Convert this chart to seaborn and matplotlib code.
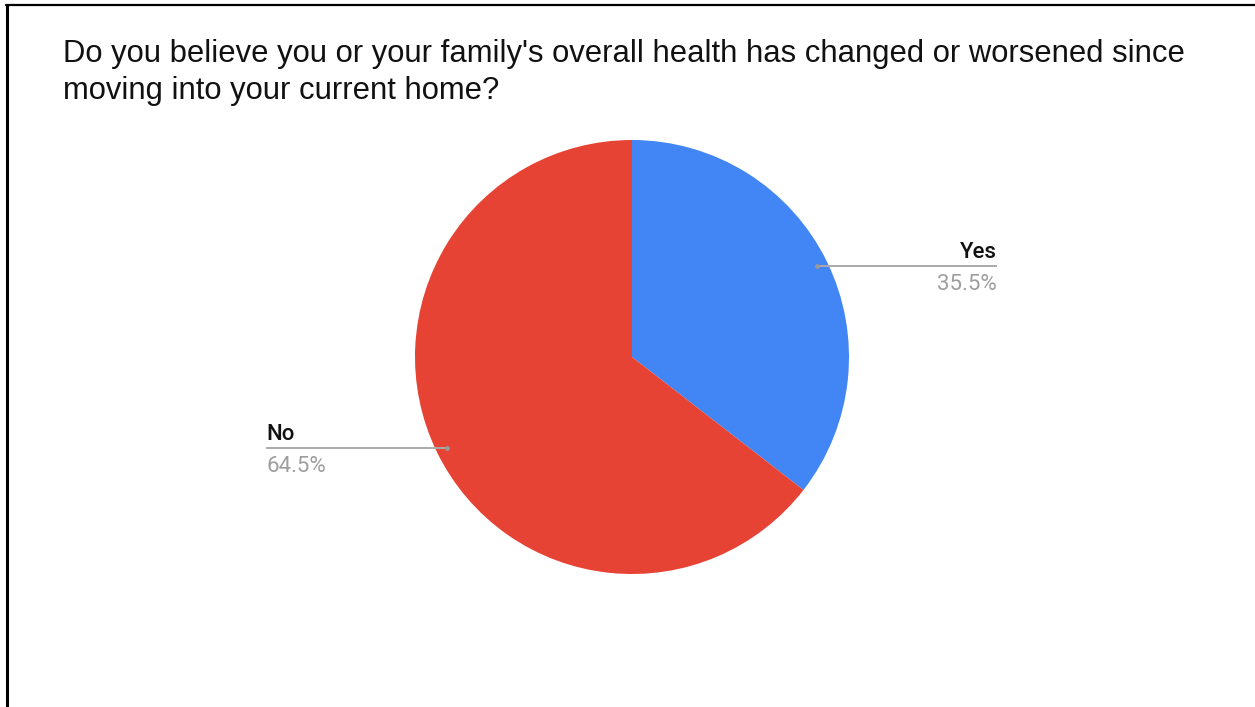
import matplotlib
matplotlib.use("Agg")
import matplotlib.pyplot as plt
from matplotlib.lines import Line2D
import numpy as np
import seaborn as sns

# Survey responses
categories = ["Yes", "No"]
shares = [35.5, 64.5]
pct_labels = ["35.5%", "64.5%"]
title = ("Do you believe you or your family's overall health has changed or worsened since\n"
         "moving into your current home?")

sns.set_theme(style="white")
plt.rcParams["font.family"] = ["Liberation Sans", "DejaVu Sans"]

colors = ["#4285F4", "#E64334"]

W, H = 1255, 707
fig = plt.figure(figsize=(W / 100, H / 100), dpi=100)
fig.patch.set_facecolor("white")
ax = fig.add_axes([0, 0, 1, 1])

cx, cy, R = 632, H - 357, 217
wedges, _ = ax.pie(shares, colors=colors, startangle=90, counterclock=False,
                   radius=R, center=(cx, cy), frame=True,
                   wedgeprops=dict(linewidth=0))
ax.set_xlim(0, W)
ax.set_ylim(0, H)
ax.set_aspect("equal")
ax.axis("off")

# Leader lines and labels
end_x = {"Yes": 997, "No": 266}
for w, cat, pl in zip(wedges, categories, pct_labels):
    mid = np.deg2rad((w.theta1 + w.theta2) / 2)
    px = cx + 0.95 * R * np.cos(mid)
    py = cy + 0.95 * R * np.sin(mid)
    ex = end_x[cat]
    ax.plot([px, ex], [py, py], color="#AAAAAA", lw=1.4, solid_capstyle="butt")
    ax.plot([px], [py], "o", color="#999999", ms=3.5, mec="none")
    ha = "right" if ex > px else "left"
    ax.text(ex, py + 8, cat, ha=ha, va="baseline", fontsize=16,
            family=["Roboto", "DejaVu Sans"], weight="medium", color="#111111")
    ax.text(ex, py - 24, pl, ha=ha, va="baseline", fontsize=16,
            family=["Roboto", "DejaVu Sans"], color="#9E9E9E")

fig.text(63 / W, 1 - 39 / H, title, ha="left", va="top", fontsize=22.3,
         color="#111111", linespacing=1.3)

# Frame edges (top and left)
fig.add_artist(Line2D([6 / W, 1.0], [1 - 5 / H, 1 - 5 / H], color="black", lw=1.6,
                      transform=fig.transFigure))
fig.add_artist(Line2D([6.5 / W, 6.5 / W], [0, 1 - 5 / H], color="black", lw=2.2,
                      transform=fig.transFigure))

fig.savefig("out.png", dpi=100, facecolor="white")
